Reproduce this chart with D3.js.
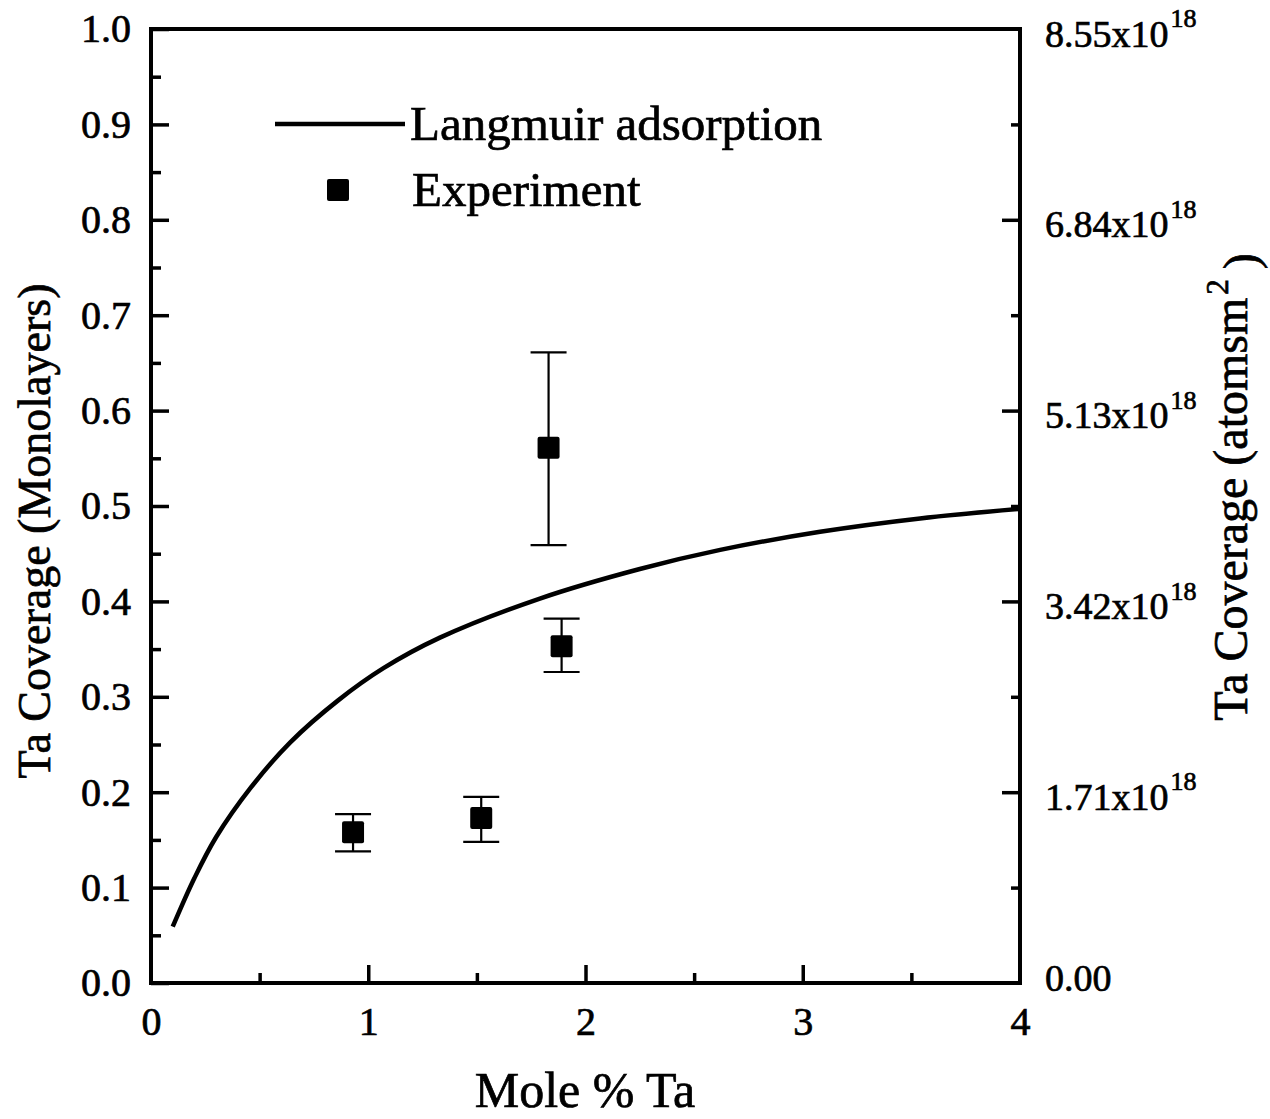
<!DOCTYPE html>
<html><head><meta charset="utf-8">
<script src="https://cdn.jsdelivr.net/npm/d3@7"></script>
<style>
body{margin:0;background:#fff;}
text{font-family:"Liberation Serif","Times New Roman",serif;fill:#000;stroke:#000;stroke-width:0.7px;}
</style></head>
<body><svg id="c" width="1270" height="1119"></svg>
<script>
// ---- data ----
const curveX = [0.10, 0.20, 0.30, 0.46, 0.64, 0.86, 1.07, 1.33, 1.79, 2.25, 2.62, 3.08, 3.54, 4.00];
const curveY = [0.059, 0.110, 0.153, 0.205, 0.252, 0.296, 0.330, 0.362, 0.403, 0.434, 0.454, 0.473, 0.487, 0.497];
const expX = [0.93, 1.52, 1.83, 1.89];
const expY = [0.158, 0.173, 0.561, 0.353];
const expLo = [0.138, 0.148, 0.459, 0.326];
const expHi = [0.177, 0.195, 0.661, 0.382];
const xTicks = [0, 1, 2, 3, 4];
const xMinor = [0.5, 1.5, 2.5, 3.5];
const yTicks = [0.0, 0.1, 0.2, 0.3, 0.4, 0.5, 0.6, 0.7, 0.8, 0.9, 1.0];
const yMinor = [0.05, 0.15, 0.25, 0.35, 0.45, 0.55, 0.65, 0.75, 0.85, 0.95];
const rTicks = [0.0, 0.2, 0.4, 0.6, 0.8, 1.0];
const rLabels = ["0.00", "1.71", "3.42", "5.13", "6.84", "8.55"];
const rMinor = [0.1, 0.3, 0.5, 0.7, 0.9];

const svg = d3.select("#c");
const L = 151, R = 1020, T = 29, B = 983;
const x = d3.scaleLinear().domain([0, 4]).range([L, R]);
const y = d3.scaleLinear().domain([0, 1]).range([B, T]);

function styleAxis(g){ g.select(".domain").remove(); g.selectAll("line").attr("stroke","#000").attr("stroke-width",3.5); }

svg.append("g").attr("transform",`translate(${L},0)`)
  .call(d3.axisLeft(y).tickValues(yTicks).tickSize(-18).tickPadding(20).tickFormat(d3.format(".1f")))
  .call(styleAxis).selectAll("text").style("font-size","40px");
svg.append("g").attr("transform",`translate(${L},0)`)
  .call(d3.axisLeft(y).tickValues(yMinor).tickSize(-10).tickFormat(""))
  .call(styleAxis);

svg.append("g").attr("transform",`translate(0,${B})`)
  .call(d3.axisBottom(x).tickValues(xTicks).tickSize(-18).tickPadding(24).tickFormat(d3.format("d")))
  .call(styleAxis).call(g=>g.selectAll(".tick").filter(d=>d===0||d===4).select("line").remove())
  .selectAll("text").style("font-size","40px");
svg.append("g").attr("transform",`translate(0,${B})`)
  .call(d3.axisBottom(x).tickValues(xMinor).tickSize(-10).tickFormat(""))
  .call(styleAxis);

const rg = svg.append("g").attr("transform",`translate(${R},0)`)
  .call(d3.axisRight(y).tickValues(rTicks).tickSize(-18).tickPadding(25).tickFormat(""))
  .call(styleAxis);
rg.selectAll(".tick").filter(d=>d===0||d===1).select("line").remove();
rg.selectAll(".tick text").each(function(d){
  const t = d3.select(this).style("font-size","38px").attr("dy", d===0 ? "0.2em" : "0.45em");
  const lab = rLabels[rTicks.indexOf(d)];
  t.append("tspan").text(lab === "0.00" ? lab : lab + "x10");
  if (lab !== "0.00") t.append("tspan").attr("dy","-0.75em").attr("dx","2").style("font-size","26px").text("18");
});
svg.append("g").attr("transform",`translate(${R},0)`)
  .call(d3.axisRight(y).tickValues(rMinor).tickSize(-9).tickFormat(""))
  .call(styleAxis);

// frame
svg.append("rect").attr("x",L).attr("y",T).attr("width",R-L).attr("height",B-T)
  .attr("fill","none").attr("stroke","#000").attr("stroke-width",4);

// curve
const pts = curveX.map((v,i)=>[v,curveY[i]]);
svg.append("path").datum(pts)
  .attr("d", d3.line().x(d=>x(d[0])).y(d=>y(d[1])).curve(d3.curveCatmullRom.alpha(0.5)))
  .attr("fill","none").attr("stroke","#000").attr("stroke-width",4.5);

// error bars + points
const exp = expX.map((v,i)=>({x:v,y:expY[i],lo:expLo[i],hi:expHi[i]}));
const eb = svg.append("g").attr("stroke","#000").attr("stroke-width",2.2);
eb.selectAll(".v").data(exp).join("line").attr("x1",d=>x(d.x)).attr("x2",d=>x(d.x)).attr("y1",d=>y(d.lo)).attr("y2",d=>y(d.hi));
eb.selectAll(".c1").data(exp).join("line").attr("x1",d=>x(d.x)-18).attr("x2",d=>x(d.x)+18).attr("y1",d=>y(d.lo)).attr("y2",d=>y(d.lo));
eb.selectAll(".c2").data(exp).join("line").attr("x1",d=>x(d.x)-18).attr("x2",d=>x(d.x)+18).attr("y1",d=>y(d.hi)).attr("y2",d=>y(d.hi));
svg.append("g").selectAll("rect").data(exp).join("rect")
  .attr("x",d=>x(d.x)-11).attr("y",d=>y(d.y)-11).attr("width",22).attr("height",22).attr("rx",2).attr("fill","#000");

// legend
svg.append("line").attr("x1",275).attr("x2",405).attr("y1",124).attr("y2",124).attr("stroke","#000").attr("stroke-width",4.5);
svg.append("text").attr("x",410).attr("y",140).style("font-size","49px").text("Langmuir adsorption");
svg.append("rect").attr("x",327).attr("y",179).attr("width",22).attr("height",22).attr("rx",2).attr("fill","#000");
svg.append("text").attr("x",412).attr("y",206).style("font-size","49px").text("Experiment");

// axis titles
svg.append("text").attr("x",585).attr("y",1107).attr("text-anchor","middle").style("font-size","50px").text("Mole % Ta");
svg.append("text").attr("transform","translate(50,531) rotate(-90)").attr("text-anchor","middle").style("font-size","46px").text("Ta Coverage (Monolayers)");
const rt = svg.append("text").attr("transform","translate(1247,487) rotate(-90)").attr("text-anchor","middle").style("font-size","48px");
rt.append("tspan").text("Ta Coverage (atomsm");
rt.append("tspan").attr("dy","-0.6em").attr("dx","3").style("font-size","31px").text("2");
rt.append("tspan").attr("dy","0.6em").attr("dx","10").text(")");
</script></body></html>
